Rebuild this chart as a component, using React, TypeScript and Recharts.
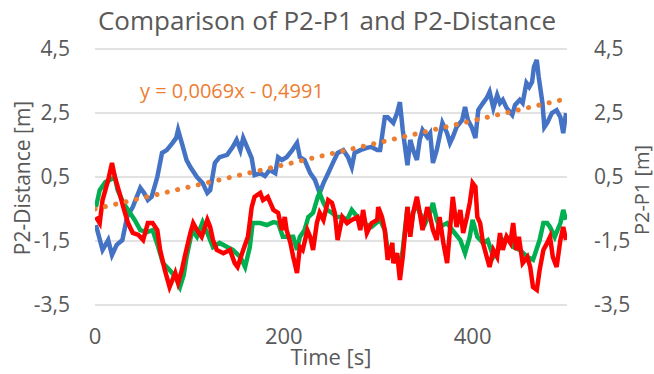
import { LineChart, Line, XAxis, YAxis, CartesianGrid } from "recharts";

// time [s], value [m]
const blueSeries: [number, number][] = [
  [1, -1.0], [8, -1.78], [14, -1.47], [18, -1.94], [23, -1.62], [29, -1.47], [34, -0.75], [40, -0.44],
  [48, 0.16], [52, 0.0], [56, -0.22], [60, -0.12], [66, 0.5], [71, 1.25], [76, 1.34], [82, 1.56],
  [86, 1.72], [88, 1.97], [92, 1.56], [97, 1.03], [101, 0.81], [108, 0.5], [114, 0.31], [119, 0.0],
  [122, 0.09], [127, 0.94], [132, 1.12], [140, 1.19], [146, 1.44], [150, 1.66], [154, 1.34], [157, 1.72],
  [161, 1.44], [166, 1.09], [169, 0.56], [175, 0.62], [180, 0.53], [185, 0.72], [191, 0.62], [194, 1.12],
  [198, 1.03], [203, 1.12], [209, 1.34], [214, 1.56], [217, 1.12], [222, 1.03], [228, 0.62], [233, 0.41],
  [238, 0.0], [242, 0.31], [247, 0.62], [252, 0.94], [257, 1.25], [263, 1.34], [268, 1.12], [272, 0.81],
  [275, 1.25], [281, 1.34], [288, 1.41], [293, 1.44], [299, 1.34], [302, 1.34], [307, 2.37], [310, 2.37],
  [316, 2.19], [320, 2.5], [323, 2.84], [326, 1.97], [331, 0.87], [334, 1.66], [337, 1.34], [341, 1.03],
  [344, 1.66], [347, 1.97], [352, 1.75], [355, 1.87], [358, 0.94], [362, 1.34], [368, 2.19], [373, 1.87],
  [376, 1.56], [379, 1.75], [383, 2.06], [389, 2.28], [392, 2.69], [395, 2.28], [399, 2.06], [403, 1.72],
  [406, 2.59], [411, 2.81], [415, 2.97], [418, 3.16], [422, 2.66], [426, 3.06], [429, 2.81], [432, 2.91],
  [436, 2.66], [442, 2.44], [445, 2.75], [450, 2.91], [453, 2.81], [457, 3.44], [460, 3.31], [463, 3.47],
  [465, 3.94], [468, 4.16], [470, 3.63], [474, 2.81], [476, 2.06], [479, 2.19], [484, 2.5], [489, 2.59],
  [493, 2.37], [496, 1.87], [499, 2.5],
];

const greenSeries: [number, number][] = [
  [1, -0.44], [5, 0.09], [11, 0.34], [16, 0.41], [21, 0.5], [24, 0.09], [30, -0.31], [37, -0.62],
  [42, -0.84], [48, -1.16], [55, -1.22], [61, -1.16], [67, -1.69], [72, -2.19], [79, -2.41], [85, -2.62],
  [90, -2.94], [94, -2.56], [97, -2.0], [103, -1.16], [108, -1.37], [114, -0.91], [119, -1.25], [125, -1.69],
  [132, -1.56], [140, -1.69], [146, -1.78], [154, -2.0], [159, -2.31], [164, -1.69], [167, -0.94], [175, -0.94],
  [182, -1.0], [189, -0.91], [194, -0.94], [199, -1.37], [203, -1.37], [210, -1.37], [214, -1.78], [217, -1.37],
  [222, -1.16], [226, -0.75], [231, -0.62], [236, -0.12], [238, 0.0], [242, -0.31], [246, -0.53], [251, -0.62],
  [256, -0.75], [262, -0.75], [267, -0.84], [272, -0.53], [278, -0.75], [284, -0.94], [293, -1.06], [302, -0.84],
  [307, -1.16], [310, -1.78], [316, -2.0], [320, -2.0], [323, -2.31], [326, -1.78], [331, -0.44], [334, -1.25],
  [337, -0.62], [341, -0.31], [344, -0.62], [350, -0.94], [355, -0.62], [358, -0.31], [362, -0.84], [365, -1.06],
  [373, -0.94], [376, -1.06], [381, -1.25], [387, -1.47], [392, -1.88], [397, -1.37], [400, -0.84], [405, -1.37],
  [411, -1.56], [416, -1.47], [422, -2.0], [429, -1.69], [436, -1.37], [443, -1.69], [450, -1.78], [458, -2.0],
  [464, -2.09], [471, -1.47], [475, -0.94], [479, -0.94], [482, -1.06], [487, -1.37], [493, -0.94], [496, -0.53],
  [499, -0.84],
];

const redSeries: [number, number][] = [
  [1, -0.75], [5, -0.94], [8, -0.22], [14, 0.41], [18, 0.94], [21, 0.5], [26, 0.0], [30, -0.44],
  [35, -0.94], [40, -1.25], [46, -1.31], [51, -1.47], [56, -0.94], [61, -0.94], [66, -1.16], [69, -1.78],
  [74, -2.41], [79, -2.94], [85, -2.5], [88, -2.81], [92, -2.41], [95, -2.0], [101, -1.25], [104, -0.94],
  [108, -1.16], [113, -1.37], [119, -0.84], [122, -1.06], [125, -1.47], [129, -1.78], [136, -1.88], [143, -1.78],
  [148, -2.19], [151, -2.31], [157, -1.78], [162, -1.37], [166, -0.44], [169, -0.12], [175, 0.0], [178, -0.22],
  [183, -0.12], [189, -0.53], [194, -0.62], [198, -1.16], [201, -0.75], [203, -1.16], [207, -1.56], [210, -2.0],
  [214, -2.5], [217, -1.69], [220, -1.78], [225, -1.16], [228, -1.37], [231, -1.78], [235, -0.94], [238, -0.62],
  [242, -0.84], [247, -0.22], [251, -0.31], [254, -0.62], [257, -1.47], [262, -0.75], [267, -0.94], [272, -0.84],
  [278, -0.75], [281, -1.16], [284, -0.53], [288, -1.25], [293, -0.94], [299, -0.84], [300, -0.44], [304, -0.75],
  [307, -1.16], [310, -2.09], [315, -1.56], [316, -2.19], [320, -1.88], [323, -2.72], [326, -2.0], [331, -0.44],
  [334, -1.37], [337, -0.62], [341, -0.12], [344, -0.62], [347, -1.16], [352, -0.44], [355, -0.75], [358, -1.16],
  [362, -1.47], [365, -0.75], [369, -1.56], [373, -2.19], [376, -1.16], [379, -0.12], [383, -1.06], [387, -0.53],
  [390, -1.25], [394, -0.75], [397, -0.31], [400, 0.31], [403, 0.19], [405, -0.75], [408, -0.94], [411, -1.56],
  [415, -2.0], [418, -2.31], [422, -1.78], [426, -2.0], [429, -1.25], [432, -1.78], [436, -1.37], [440, -1.56],
  [443, -0.94], [446, -1.78], [449, -1.37], [453, -2.19], [458, -2.0], [461, -2.31], [464, -2.94], [468, -3.03],
  [471, -2.41], [475, -1.78], [479, -1.56], [482, -1.37], [485, -2.0], [489, -2.31], [493, -1.47], [496, -1.06],
  [499, -1.47],
];

// linear trendline of the blue series: y = 0,0069x - 0,4991
const trendSeries: [number, number][] = [
  [0, -0.4991],
  [500, 2.9509],
];

const yTicks = [-3.5, -1.5, 0.5, 2.5, 4.5];
const xTicks = [0, 200, 400];

const rows = (s: [number, number][]) => s.map(([t, v]) => ({ t, v }));
const fmt = (v: number) => String(v).replace(".", ",");

const FONT = "'Open Sans', sans-serif";
const TXT = "#595959";

export default function App() {
  const tick = { fontSize: 21, fill: TXT, fontFamily: FONT };
  return (
    <div style={{ position: "absolute", left: 0, top: 0, width: 654, height: 374, background: "#fff" }}>
      <LineChart width={654} height={374} margin={{ top: 49, right: 0, bottom: 24, left: 0 }}>
        <CartesianGrid yAxisId="left" vertical={false} stroke="#d9d9d9" strokeWidth={1.5} />
        <XAxis
          type="number"
          dataKey="t"
          domain={[0, 500]}
          ticks={xTicks}
          axisLine={false}
          tickLine={false}
          tickSize={0}
          tickMargin={23}
          height={45}
          tick={{ ...tick, fontSize: 22 }}
          allowDataOverflow
        />
        <YAxis
          yAxisId="left"
          domain={[-3.5, 4.5]}
          ticks={yTicks}
          tickFormatter={fmt}
          axisLine={false}
          tickLine={false}
          tickSize={0}
          tickMargin={25}
          width={95}
          tick={tick}
        />
        <YAxis
          yAxisId="right"
          orientation="right"
          domain={[-3.5, 4.5]}
          ticks={yTicks}
          tickFormatter={fmt}
          axisLine={false}
          tickLine={false}
          tickSize={0}
          tickMargin={27}
          width={87}
          tick={tick}
        />
        <Line yAxisId="right" data={rows(blueSeries)} dataKey="v" stroke="#4472c4" strokeWidth={4.5} dot={false} isAnimationActive={false} />
        <Line yAxisId="left" data={rows(greenSeries)} dataKey="v" stroke="#00b050" strokeWidth={4.5} dot={false} isAnimationActive={false} />
        <Line yAxisId="left" data={rows(redSeries)} dataKey="v" stroke="#ff0000" strokeWidth={4.5} dot={false} isAnimationActive={false} />
        <Line
          yAxisId="right"
          data={rows(trendSeries)}
          dataKey="v"
          stroke="#ed7d31"
          strokeWidth={5}
          strokeDasharray="0.1 10.5"
          strokeLinecap="round"
          dot={false}
          isAnimationActive={false}
        />
      </LineChart>
      <svg width={654} height={374} style={{ position: "absolute", left: 0, top: 0, pointerEvents: "none" }}>
        <text x={327} y={30} textAnchor="middle" fontSize={26} fill={TXT} fontFamily={FONT}>
          Comparison of P2-P1 and P2-Distance
        </text>
        <text x={140} y={98} fontSize={20} fill="#ed7d31" fontFamily={FONT}>
          y = 0,0069x - 0,4991
        </text>
        <text x={331} y={365} textAnchor="middle" fontSize={22} fill={TXT} fontFamily={FONT}>
          Time [s]
        </text>
        <text transform="translate(30,178) rotate(-90)" textAnchor="middle" fontSize={21} fill={TXT} fontFamily={FONT}>
          P2-Distance [m]
        </text>
        <text transform="translate(649,190) rotate(-90)" textAnchor="middle" fontSize={20} fill={TXT} fontFamily={FONT}>
          P2-P1 [m]
        </text>
      </svg>
    </div>
  );
}
